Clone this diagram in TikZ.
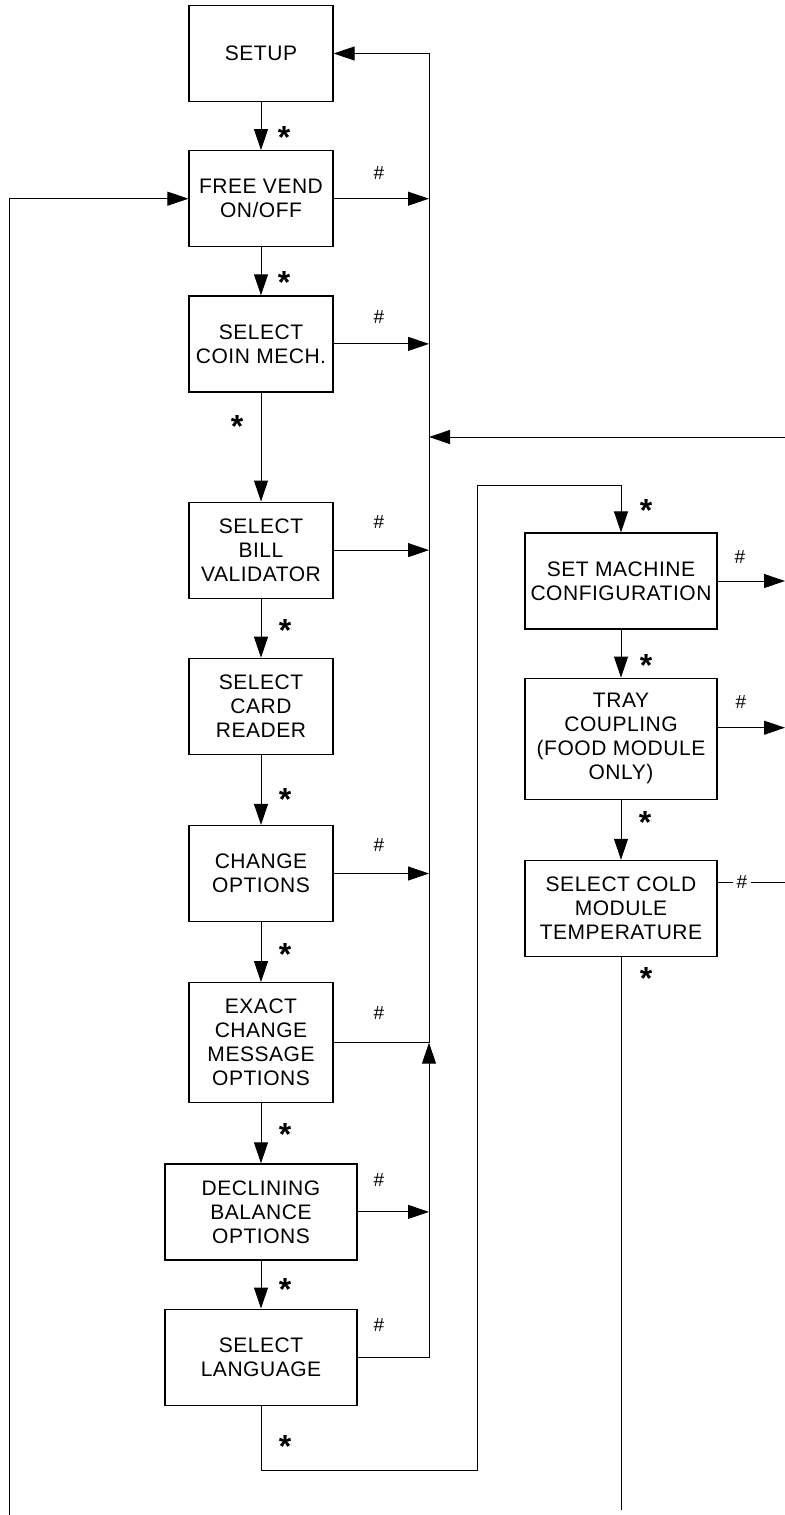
\documentclass[tikz,border=0pt]{standalone}
\usepackage{fontspec}
\setmainfont{Liberation Sans}
\newfontfamily\boxfont{Liberation Sans}[LetterSpace=2.5]
\usepackage{tikz}
\usetikzlibrary{arrows.meta, positioning, calc}

\begin{document}
\begin{tikzpicture}[
  x=0.5pt, y=-0.5pt,
  stepbox/.style={rectangle, draw, line width=0.6pt, minimum width=72pt, minimum height=48pt, align=center, inner sep=1pt, font=\boxfont\fontsize{10.5}{12}\selectfont},
  widebox/.style={stepbox, minimum width=96pt},
  arrow/.style={-{Triangle[length=10.5pt, width=7pt]}, line width=0.5pt},
  line/.style={line width=0.5pt},
  star/.style={inner sep=0pt, font=\bfseries\fontsize{16}{16}\selectfont},
  hash/.style={inner sep=0pt, font=\fontsize{9.5}{10}\selectfont}
]
  \useasboundingbox (0,0) rectangle (785,1515);

  % main column
  \node[stepbox] (setup) at (261,53.5) {SETUP};
  \node[stepbox, below=24pt of setup] (freevend) {FREE VEND\\ON/OFF};
  \node[stepbox, below=24pt of freevend] (coinmech) {SELECT\\COIN MECH.};
  \node[stepbox, below=54.5pt of coinmech] (billval) {SELECT\\BILL\\VALIDATOR};
  \node[stepbox, below=29.5pt of billval] (cardread) {SELECT\\CARD\\READER};
  \node[stepbox, below=35pt of cardread] (changeopt) {CHANGE\\OPTIONS};
  \node[stepbox, below=30pt of changeopt, minimum height=60pt] (exactmsg) {EXACT\\CHANGE\\MESSAGE\\OPTIONS};
  \node[widebox, below=30pt of exactmsg] (declbal) {DECLINING\\BALANCE\\OPTIONS};
  \node[widebox, below=24pt of declbal] (language) {SELECT\\LANGUAGE};

  % second column
  \node[widebox] (machconf) at (621,581) {SET MACHINE\\CONFIGURATION};
  \node[widebox, below=24pt of machconf, minimum height=60.5pt] (traycoup) {TRAY\\COUPLING\\(FOOD MODULE\\ONLY)};
  \node[widebox, below=30pt of traycoup] (coldtemp) {SELECT COLD\\MODULE\\TEMPERATURE};

  % bus, edges and turning points
  \coordinate (bus) at (429,0);
  \coordinate (edge) at (785,0);
  \coordinate (rightin) at (785,437);
  \coordinate (leftin) at (9,1515);
  \coordinate (coldout) at (621,1510);
  \coordinate (lowturn) at (477,1470);
  \coordinate (highturn) at (477,485);
  \coordinate (trayout) at ($(traycoup.east)+(0,-11)$);

  % * steps
  \draw[arrow] (setup) -- (freevend);
  \draw[arrow] (freevend) -- (coinmech);
  \draw[arrow] (coinmech) -- (billval);
  \draw[arrow] (billval) -- (cardread);
  \draw[arrow] (cardread) -- (changeopt);
  \draw[arrow] (changeopt) -- (exactmsg);
  \draw[arrow] (exactmsg) -- (declbal);
  \draw[arrow] (declbal) -- (language);
  \draw[arrow] (language.south) |- (lowturn) -- (highturn) -| (machconf.north);
  \draw[arrow] (machconf) -- (traycoup);
  \draw[arrow] (traycoup) -- (coldtemp);
  \draw[line] (coldtemp.south) -- (coldtemp.south |- coldout);

  % labels
  \node[star] (s1) at (284,137) {*};
  \node[star] (s2) at (284,282) {*};
  \node[star] (s3) at (237,426) {*};
  \node[star] (s4) at (285,630) {*};
  \node[star] (s5) at (285,799) {*};
  \node[star] (s6) at (285,954) {*};
  \node[star] (s7) at (285,1134) {*};
  \node[star] (s8) at (285,1289) {*};
  \node[star] (s9) at (285,1446) {*};
  \node[star] (s10) at (646,510) {*};
  \node[star] (s11) at (646,665) {*};
  \node[star] (s12) at (645,822) {*};
  \node[star] (s13) at (646,978) {*};

  \node[hash] (h1) at (379,173) {\#};
  \node[hash] (h2) at (379,317) {\#};
  \node[hash] (h3) at (379,522) {\#};
  \node[hash] (h4) at (379,845) {\#};
  \node[hash] (h5) at (379,1013) {\#};
  \node[hash] (h6) at (379,1180) {\#};
  \node[hash] (h7) at (379,1325) {\#};
  \node[hash] (h8) at (740,557) {\#};
  \node[hash] (h9) at (741,702) {\#};
  \node[hash, inner sep=1.5pt] (h10) at (742,882) {\#};

  % # exits
  \draw[arrow] (freevend.east) -- (freevend.east -| bus);
  \draw[arrow] (coinmech.east) -- (coinmech.east -| bus);
  \draw[arrow] (billval.east) -- (billval.east -| bus);
  \draw[arrow] (changeopt.east) -- (changeopt.east -| bus);
  \draw[line] (exactmsg.east) -- (exactmsg.east -| bus);
  \draw[arrow] (declbal.east) -- (declbal.east -| bus);
  \draw[arrow] (language.east) -- (language.east -| bus) -- (exactmsg.east -| bus);
  \draw[arrow] (exactmsg.east -| bus) -- (setup.east -| bus) -- (setup.east);
  \draw[arrow] (rightin) -- (rightin -| bus);
  \draw[arrow] (leftin) |- (freevend.west);
  \draw[arrow] (machconf.east) -- (machconf.east -| edge);
  \draw[arrow] (trayout) -- (trayout -| edge);
  \draw[line] (coldtemp.east |- h10) -- (h10.west);
  \draw[line] (h10.east) -- (h10 -| edge);
\end{tikzpicture}
\end{document}
